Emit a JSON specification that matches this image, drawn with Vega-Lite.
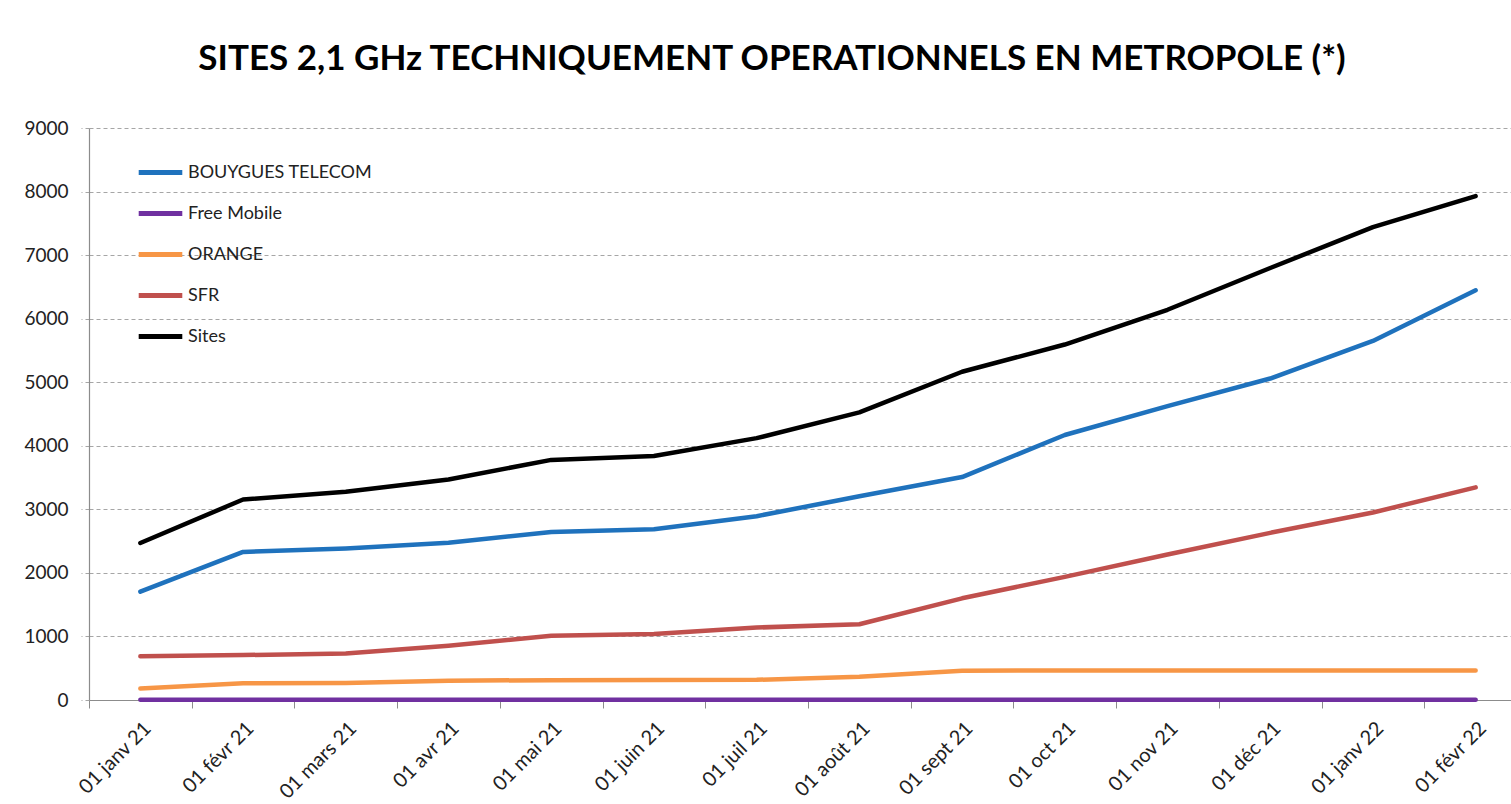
{
  "$schema": "https://vega.github.io/schema/vega-lite/v6.json",
  "width": 1422,
  "height": 572,
  "autosize": {"type": "none"},
  "padding": {"left": 89, "top": 128, "right": 0, "bottom": 104},
  "background": "white",
  "title": {
    "text": "SITES 2,1 GHz TECHNIQUEMENT OPERATIONNELS EN METROPOLE (*)",
    "font": "Lato",
    "fontSize": 35,
    "fontWeight": "bold",
    "color": "#000000",
    "anchor": "middle",
    "dx": -28,
    "offset": 42
  },
  "data": {
    "values": [
      {"mois": "01 janv 21", "serie": "BOUYGUES TELECOM", "valeur": 1705},
      {"mois": "01 févr 21", "serie": "BOUYGUES TELECOM", "valeur": 2330},
      {"mois": "01 mars 21", "serie": "BOUYGUES TELECOM", "valeur": 2385},
      {"mois": "01 avr 21", "serie": "BOUYGUES TELECOM", "valeur": 2475},
      {"mois": "01 mai 21", "serie": "BOUYGUES TELECOM", "valeur": 2645},
      {"mois": "01 juin 21", "serie": "BOUYGUES TELECOM", "valeur": 2688},
      {"mois": "01 juil 21", "serie": "BOUYGUES TELECOM", "valeur": 2892},
      {"mois": "01 août 21", "serie": "BOUYGUES TELECOM", "valeur": 3205},
      {"mois": "01 sept 21", "serie": "BOUYGUES TELECOM", "valeur": 3508},
      {"mois": "01 oct 21", "serie": "BOUYGUES TELECOM", "valeur": 4170},
      {"mois": "01 nov 21", "serie": "BOUYGUES TELECOM", "valeur": 4625},
      {"mois": "01 déc 21", "serie": "BOUYGUES TELECOM", "valeur": 5058},
      {"mois": "01 janv 22", "serie": "BOUYGUES TELECOM", "valeur": 5650},
      {"mois": "01 févr 22", "serie": "BOUYGUES TELECOM", "valeur": 6447},
      {"mois": "01 janv 21", "serie": "Free Mobile", "valeur": 5},
      {"mois": "01 févr 21", "serie": "Free Mobile", "valeur": 5},
      {"mois": "01 mars 21", "serie": "Free Mobile", "valeur": 5},
      {"mois": "01 avr 21", "serie": "Free Mobile", "valeur": 5},
      {"mois": "01 mai 21", "serie": "Free Mobile", "valeur": 5},
      {"mois": "01 juin 21", "serie": "Free Mobile", "valeur": 5},
      {"mois": "01 juil 21", "serie": "Free Mobile", "valeur": 5},
      {"mois": "01 août 21", "serie": "Free Mobile", "valeur": 5},
      {"mois": "01 sept 21", "serie": "Free Mobile", "valeur": 5},
      {"mois": "01 oct 21", "serie": "Free Mobile", "valeur": 5},
      {"mois": "01 nov 21", "serie": "Free Mobile", "valeur": 5},
      {"mois": "01 déc 21", "serie": "Free Mobile", "valeur": 5},
      {"mois": "01 janv 22", "serie": "Free Mobile", "valeur": 5},
      {"mois": "01 févr 22", "serie": "Free Mobile", "valeur": 5},
      {"mois": "01 janv 21", "serie": "ORANGE", "valeur": 180},
      {"mois": "01 févr 21", "serie": "ORANGE", "valeur": 262},
      {"mois": "01 mars 21", "serie": "ORANGE", "valeur": 266},
      {"mois": "01 avr 21", "serie": "ORANGE", "valeur": 304},
      {"mois": "01 mai 21", "serie": "ORANGE", "valeur": 312},
      {"mois": "01 juin 21", "serie": "ORANGE", "valeur": 314},
      {"mois": "01 juil 21", "serie": "ORANGE", "valeur": 318},
      {"mois": "01 août 21", "serie": "ORANGE", "valeur": 365},
      {"mois": "01 sept 21", "serie": "ORANGE", "valeur": 462},
      {"mois": "01 oct 21", "serie": "ORANGE", "valeur": 465},
      {"mois": "01 nov 21", "serie": "ORANGE", "valeur": 465},
      {"mois": "01 déc 21", "serie": "ORANGE", "valeur": 465},
      {"mois": "01 janv 22", "serie": "ORANGE", "valeur": 465},
      {"mois": "01 févr 22", "serie": "ORANGE", "valeur": 465},
      {"mois": "01 janv 21", "serie": "SFR", "valeur": 688},
      {"mois": "01 févr 21", "serie": "SFR", "valeur": 707},
      {"mois": "01 mars 21", "serie": "SFR", "valeur": 733},
      {"mois": "01 avr 21", "serie": "SFR", "valeur": 855},
      {"mois": "01 mai 21", "serie": "SFR", "valeur": 1010},
      {"mois": "01 juin 21", "serie": "SFR", "valeur": 1037},
      {"mois": "01 juil 21", "serie": "SFR", "valeur": 1140},
      {"mois": "01 août 21", "serie": "SFR", "valeur": 1192},
      {"mois": "01 sept 21", "serie": "SFR", "valeur": 1600},
      {"mois": "01 oct 21", "serie": "SFR", "valeur": 1937},
      {"mois": "01 nov 21", "serie": "SFR", "valeur": 2290},
      {"mois": "01 déc 21", "serie": "SFR", "valeur": 2630},
      {"mois": "01 janv 22", "serie": "SFR", "valeur": 2950},
      {"mois": "01 févr 22", "serie": "SFR", "valeur": 3345},
      {"mois": "01 janv 21", "serie": "Sites", "valeur": 2470},
      {"mois": "01 févr 21", "serie": "Sites", "valeur": 3155},
      {"mois": "01 mars 21", "serie": "Sites", "valeur": 3278},
      {"mois": "01 avr 21", "serie": "Sites", "valeur": 3470},
      {"mois": "01 mai 21", "serie": "Sites", "valeur": 3778},
      {"mois": "01 juin 21", "serie": "Sites", "valeur": 3840},
      {"mois": "01 juil 21", "serie": "Sites", "valeur": 4120},
      {"mois": "01 août 21", "serie": "Sites", "valeur": 4525},
      {"mois": "01 sept 21", "serie": "Sites", "valeur": 5165},
      {"mois": "01 oct 21", "serie": "Sites", "valeur": 5593},
      {"mois": "01 nov 21", "serie": "Sites", "valeur": 6140},
      {"mois": "01 déc 21", "serie": "Sites", "valeur": 6797},
      {"mois": "01 janv 22", "serie": "Sites", "valeur": 7440},
      {"mois": "01 févr 22", "serie": "Sites", "valeur": 7929}
    ]
  },
  "mark": {"type": "line", "strokeWidth": 4.5, "strokeCap": "round", "strokeJoin": "round", "clip": false},
  "encoding": {
    "x": {
      "field": "mois",
      "type": "ordinal",
      "sort": ["01 janv 21", "01 févr 21", "01 mars 21", "01 avr 21", "01 mai 21", "01 juin 21", "01 juil 21", "01 août 21", "01 sept 21", "01 oct 21", "01 nov 21", "01 déc 21", "01 janv 22", "01 févr 22"],
      "scale": {"type": "band", "paddingInner": 0, "paddingOuter": 0, "range": [0, 1438]},
      "axis": {
        "title": null,
        "labelAngle": -45,
        "labelAlign": "right",
        "labelBaseline": "top",
        "labelFont": "Lato",
        "labelFontSize": 20,
        "labelColor": "#222222",
        "labelPadding": 10,
        "tickBand": "extent",
        "tickSize": 8,
        "tickColor": "#8c8c8c",
        "domainColor": "#8c8c8c",
        "domainWidth": 1.2,
        "grid": false
      }
    },
    "y": {
      "field": "valeur",
      "type": "quantitative",
      "scale": {"domain": [0, 9000], "nice": false},
      "axis": {
        "title": null,
        "values": [0, 1000, 2000, 3000, 4000, 5000, 6000, 7000, 8000, 9000],
        "format": "d",
        "labelFont": "Lato",
        "labelFontSize": 19,
        "labelColor": "#222222",
        "labelPadding": 13,
        "tickSize": 8,
        "tickColor": "#a6a6a6",
        "tickDash": [4, 3],
        "domainColor": "#8c8c8c",
        "domainWidth": 1.2,
        "grid": true,
        "gridColor": "#a6a6a6",
        "gridDash": [4, 3],
        "gridWidth": 1
      }
    },
    "color": {
      "field": "serie",
      "type": "nominal",
      "scale": {
        "domain": ["BOUYGUES TELECOM", "Free Mobile", "ORANGE", "SFR", "Sites"],
        "range": ["#1f72bd", "#7030a0", "#f79646", "#c0504d", "#000000"]
      },
      "legend": {
        "title": null,
        "orient": "none",
        "legendX": 47,
        "legendY": 20,
        "padding": 0,
        "symbolType": "stroke",
        "symbolSize": 1900,
        "symbolStrokeWidth": 5,
        "labelFont": "Lato",
        "labelFontSize": 18,
        "labelLimit": 0,
        "labelColor": "#222222",
        "labelOffset": 3,
        "rowPadding": 6
      }
    }
  },
  "config": {
    "view": {"stroke": null}
  }
}
